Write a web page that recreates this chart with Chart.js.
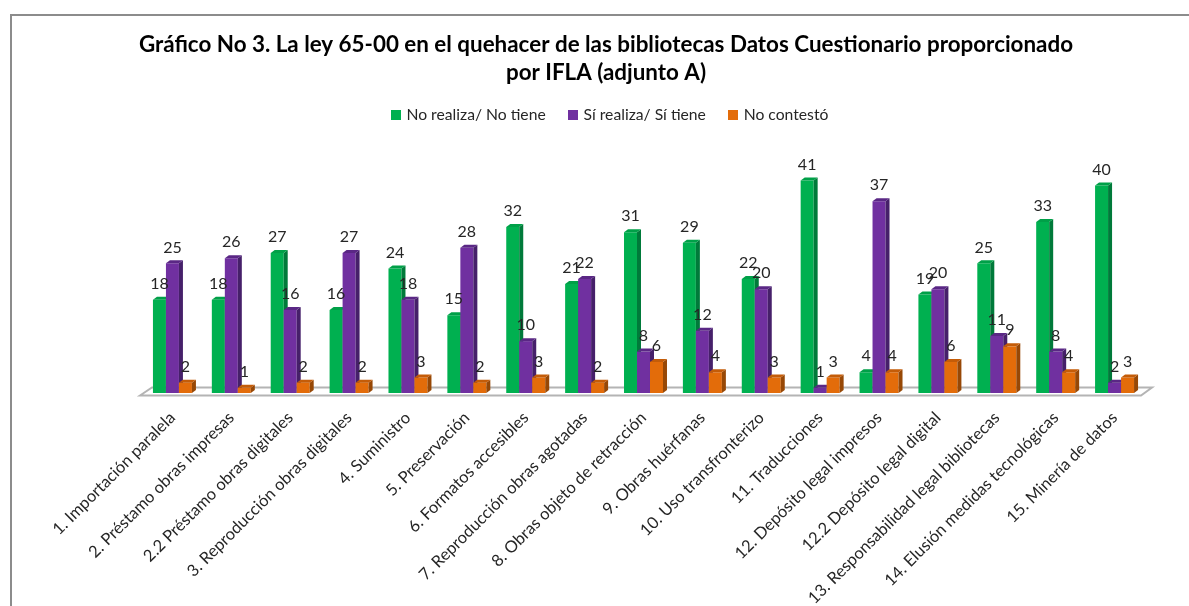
<!DOCTYPE html>
<html><head><meta charset="utf-8">
<style>html,body{margin:0;padding:0;background:#fff;overflow:hidden}#w{position:relative;width:1189px;height:606px}</style>
<script src="https://cdn.jsdelivr.net/npm/chart.js@4"></script>
</head><body><div id="w"><canvas id="c" width="1189" height="606"></canvas></div>
<script>
const titleLines = ["Gráfico No 3. La ley 65-00 en el quehacer de las bibliotecas Datos Cuestionario proporcionado","por IFLA (adjunto A)"];
const categories = ["1. Importación paralela","2. Préstamo obras impresas","2.2 Préstamo obras digitales","3. Reproducción obras digitales","4. Suministro","5. Preservación","6. Formatos accesibles","7. Reproducción obras agotadas","8. Obras objeto de retracción","9. Obras huérfanas","10. Uso transfronterizo","11. Traducciones","12. Depósito legal impresos","12.2 Depósito legal digital","13. Responsabilidad legal bibliotecas","14. Elusión medidas tecnológicas","15. Minería de datos"];
const noRealiza = [18,18,27,16,24,15,32,21,31,29,22,41,4,19,25,33,40];
const siRealiza = [25,26,16,27,18,28,10,22,8,12,20,1,37,20,11,8,2];
const noContesto = [2,1,2,2,3,2,3,2,6,4,3,3,4,6,9,4,3];
const FONT = 'Lato, Carlito, Calibri, sans-serif';
const TEXT = '#262626';
const DX = 4, DY = 3;
const shades = {
  '#00b050': {top:'#00a048', side:'#007a3a'},
  '#7030a0': {top:'#5a2785', side:'#46206a'},
  '#e36c0a': {top:'#c45c08', side:'#974806'}
};
function swatch(color){
  const s = document.createElement('canvas'); s.width = 10; s.height = 10;
  const x = s.getContext('2d'); x.fillStyle = color; x.fillRect(0,0,10,10);
  return s;
}
const frame = {id:'frame',
afterLayout(chart){ chart.legend.left += 4.5; chart.legend.right += 4.5; },
beforeDraw(chart){
  const g = chart.ctx, a = chart.chartArea;
  g.save();
  g.strokeStyle = '#8c8c8c'; g.lineWidth = 2;
  g.beginPath(); g.moveTo(11,606); g.lineTo(11,15); g.lineTo(1189,15); g.stroke();
  g.fillStyle = '#fff'; g.strokeStyle = '#b4b4b4'; g.lineWidth = 2;
  g.beginPath();
  g.moveTo(a.left-3,a.bottom+2.5); g.lineTo(a.left+9,a.bottom-5.5);
  g.lineTo(a.right+8,a.bottom-5.5); g.lineTo(a.right-3,a.bottom+2.5); g.closePath();
  g.fill(); g.stroke();
  g.restore();
},
beforeDatasetDraw(){ return false; },
afterDatasetsDraw(chart){
  const g = chart.ctx;
  g.save();
  chart.data.datasets.forEach((ds,i)=>{
    const c = shades[ds.backgroundColor];
    for (const b of chart.getDatasetMeta(i).data){
      b.draw(g);
      const l=b.x-b.width/2, r=b.x+b.width/2;
      g.fillStyle = c.side; g.beginPath();
      g.moveTo(r,b.y); g.lineTo(r+DX,b.y-DY); g.lineTo(r+DX,b.base-DY); g.lineTo(r,b.base); g.closePath(); g.fill();
      g.fillStyle = c.top; g.beginPath();
      g.moveTo(l,b.y); g.lineTo(l+DX,b.y-DY); g.lineTo(r+DX,b.y-DY); g.lineTo(r,b.y); g.closePath(); g.fill();
    }
  });
  g.font = '16px '+FONT; g.fillStyle = TEXT; g.textAlign='center'; g.textBaseline='middle';
  chart.data.datasets.forEach((ds,i)=>{
    chart.getDatasetMeta(i).data.forEach((b,j)=>{
      g.fillText(String(ds.data[j]), b.x, b.y-16);
    });
  });
  g.restore();
}};
new Chart(document.getElementById('c'),{
  type:'bar',
  data:{labels:categories,datasets:[
    {label:'No realiza/ No tiene',data:noRealiza,backgroundColor:'#00b050'},
    {label:'Sí realiza/ Sí tiene',data:siRealiza,backgroundColor:'#7030a0'},
    {label:'No contestó',data:noContesto,backgroundColor:'#e36c0a'}
  ]},
  plugins:[frame],
  options:{
    responsive:false,animation:false,
    layout:{padding:{left:68,right:45,top:0,bottom:0}},
    categoryPercentage:.662,barPercentage:1,
    scales:{
      x:{grid:{display:false},border:{display:false},
        afterFit(s){s.height=213;},
        ticks:{autoSkip:false,minRotation:45,maxRotation:45,padding:7,color:TEXT,font:{family:FONT,size:16.5}}},
      y:{min:0,max:50.2,grid:{display:false},border:{display:false},
        ticks:{display:false},afterFit(s){s.width=75;}}
    },
    plugins:{
      tooltip:{enabled:false},
      title:{display:true,text:titleLines,color:'#000',font:{family:FONT,size:22.4,weight:'bold',lineHeight:1.25},padding:{top:31,bottom:-4}},
      legend:{display:true,position:'top',labels:{usePointStyle:true,boxWidth:6,boxHeight:10,color:TEXT,font:{family:FONT,size:15.7},padding:24,
        generateLabels(chart){
          return Chart.defaults.plugins.legend.labels.generateLabels(chart).map(it=>({...it,pointStyle:swatch(it.fillStyle)}));
        }}}
    }
  }
});
</script></body></html>
